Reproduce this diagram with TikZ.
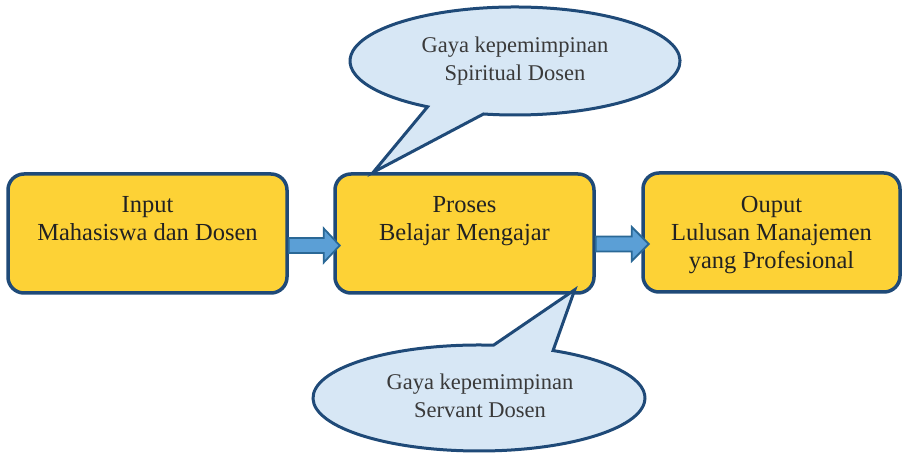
\documentclass[tikz,border=0pt]{standalone}
\usepackage{fontspec}
\setmainfont{Liberation Serif}
\usetikzlibrary{calc}
\definecolor{boxfill}{HTML}{FDD236}
\definecolor{boxline}{HTML}{1F4A78}
\definecolor{callfill}{HTML}{D7E7F5}
\definecolor{arrfill}{HTML}{5B9FD6}
\definecolor{arrline}{HTML}{2A6896}
\definecolor{txt}{HTML}{222222}
\definecolor{calltxt}{HTML}{3A3A3A}
\tikzset{
  stagebox/.style={draw=boxline, line width=3.5pt, fill=boxfill, rounded corners=16pt, inner sep=0pt},
  stagetext/.style={anchor=north, align=center, text=txt, inner sep=0pt,
    font=\fontsize{24.5}{28}\selectfont},
  calltext/.style={align=center, text=calltxt, inner sep=0pt,
    font=\fontsize{22.5}{28}\selectfont},
  callout/.style={draw=boxline, line width=3pt, fill=callfill, line join=miter},
  blockarrow/.style={draw=arrline, line width=1.8pt, fill=arrfill, line join=miter}
}
\begin{document}
\begin{tikzpicture}[x=1pt,y=1pt]
\useasboundingbox (0,0) rectangle (902,454);
% boxes
\node[stagebox, minimum width=279pt, minimum height=119pt] (in) at (147.5,220.5) {};
\node[stagebox, minimum width=259pt, minimum height=119pt] (proc) at (464.5,220.5) {};
\node[stagebox, minimum width=257pt, minimum height=119pt] (out) at (771.5,221.5) {};
\node[stagetext] (intext) at ([yshift=-24pt]in.north) {Input\\Mahasiswa dan Dosen};
\node[stagetext] (proctext) at ([yshift=-24pt]proc.north) {Proses\\Belajar Mengajar};
\node[stagetext] (outtext) at ([yshift=-25pt]out.north) {Ouput\\Lulusan Manajemen\\yang Profesional};
% block arrows
\draw[blockarrow] ([yshift=-12pt+7.5pt]in.east) -- ++(35,0) -- ++(0,9.5) -- ++(16,-17)
  -- ++(-16,-17) -- ++(0,9.5) -- ++(-35,0) -- cycle;
\draw[blockarrow] ([yshift=-10.5pt+7.5pt]proc.east) -- ++(36,0) -- ++(0,9.5) -- ++(17,-17)
  -- ++(-17,-17) -- ++(0,9.5) -- ++(-36,0) -- cycle;
% callouts
\coordinate (toptip) at ([xshift=40pt]proc.north west);
\coordinate (topc) at (515,393);
\draw[callout] (toptip) -- ($(topc)+(259:165 and 54)$)
  arc[start angle=259, end angle=598, x radius=165, y radius=54] -- cycle;
\node[calltext] (toptext) at (515,393) {Gaya kepemimpinan\\Spiritual Dosen};
\coordinate (bottip) at ($(proc.south east)+(-21,5)$);
\coordinate (botc) at (479,56);
\draw[callout] (bottip) -- ($(botc)+(85:166 and 53)$)
  arc[start angle=85, end angle=423.5, x radius=166, y radius=53] -- cycle;
\node[calltext] (bottext) at (480,58) {Gaya kepemimpinan\\Servant Dosen};
\end{tikzpicture}
\end{document}
